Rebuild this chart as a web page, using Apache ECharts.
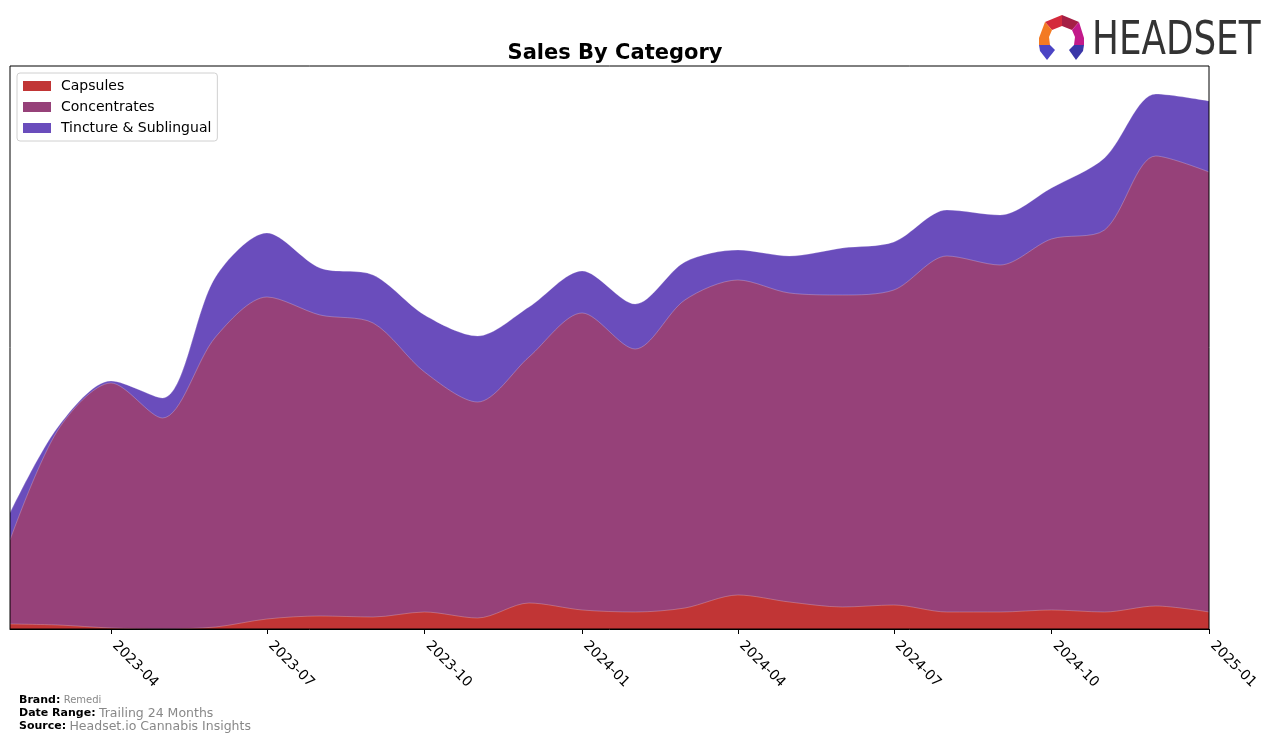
<!DOCTYPE html>
<html>
<head>
<meta charset="utf-8">
<script src="https://cdn.jsdelivr.net/npm/echarts@6/dist/echarts.min.js"></script>
<style>
html,body{margin:0;padding:0;background:#fff;}
#chart{width:1276px;height:743px;}
</style>
</head>
<body>
<div id="chart"></div>
<script>
var months = ['2023-02','2023-03','2023-04','2023-05','2023-06','2023-07','2023-08','2023-09','2023-10','2023-11','2023-12','2024-01','2024-02','2024-03','2024-04','2024-05','2024-06','2024-07','2024-08','2024-09','2024-10','2024-11','2024-12','2025-01'];
var capsules = [5,4,1,0,2,10,13,12,17,11,26,19,17,21,34,27,22,24,17,17,19,17,23,17];
var concentrates = [84,195,245,211,290,322,301,294,240,216,246,297,263,308,315,309,312,315,356,347,371,382,450,440];
var tincture = [27,3,2,20,60,64,47,48,57,66,50,42,45,38,30,37,47,48,46,50,51,72,62,71];
var tickLabels = ['2023-04','2023-07','2023-10','2024-01','2024-04','2024-07','2024-10','2025-01'];
var seriesNames = ['Capsules','Concentrates','Tincture & Sublingual'];
var colors = ['#c13535','#964179','#6a4dbc'];

function ts(m){var p=m.split('-');return Date.UTC(+p[0],+p[1]-1,1);}
function fmt(v){var d=new Date(v);var mm=d.getUTCMonth()+1;return d.getUTCFullYear()+'-'+(mm<10?'0':'')+mm;}
var tickVals = tickLabels.map(ts);

// cumulative (stacked) layers built from the series arrays
var layers = [capsules, concentrates, tincture];
var cumulative = [];
layers.forEach(function(arr, k){
  cumulative.push(arr.map(function(v, i){ return v + (k > 0 ? cumulative[k-1][i] : 0); }));
});

var chart = echarts.init(document.getElementById('chart'));
var mk = function(k){
  return {
    name:seriesNames[k], type:'line', smooth:0.3, symbol:'none',
    data:months.map(function(m,i){return [ts(m), cumulative[k][i]];}),
    lineStyle:{width:0.8,color:'rgba(255,255,255,0.3)'},
    itemStyle:{color:colors[k]},
    areaStyle:{color:colors[k],opacity:1,origin:'start'},
    z:5-k
  };
};
chart.setOption({
  animation:false,
  title:{text:'Sales By Category',left:610,top:38,textAlign:'center',
    textStyle:{fontFamily:'DejaVu Sans',fontSize:21,fontWeight:'bold',color:'#000'}},
  legend:{
    data:seriesNames, orient:'vertical', left:17, top:73,
    itemWidth:28, itemHeight:10, itemGap:7,
    padding:[6,6,6,6],
    borderColor:'#d0d0d0', borderWidth:1, borderRadius:3, backgroundColor:'#fff',
    icon:'rect',
    textStyle:{fontFamily:'DejaVu Sans',fontSize:14,color:'#000',padding:[0,0,0,5]}
  },
  grid:{left:10,right:67,top:66,bottom:114,show:true,borderColor:'#000',borderWidth:1,backgroundColor:'transparent',z:10},
  xAxis:{
    type:'value', min:ts(months[0]), max:ts(months[months.length-1]),
    splitLine:{show:false},
    axisLine:{show:true,lineStyle:{color:'#000',width:1}},
    axisTick:{show:true,customValues:tickVals,length:5,lineStyle:{color:'#000'}},
    axisLabel:{show:true,customValues:tickVals,rotate:-45,margin:11,padding:[0,0,0,5],formatter:function(v){return fmt(v);},
      fontFamily:'DejaVu Sans',fontSize:14,color:'#000'}
  },
  yAxis:{type:'value',min:0,max:563,show:false,splitLine:{show:false}},
  series:[mk(0),mk(1),mk(2)],
  graphic:[
    {type:'text',left:19,top:694,style:{text:'{b|Brand:} {g|Remedi}',rich:{b:{fontFamily:'DejaVu Sans',fontSize:11,fontWeight:'bold',fill:'#000'},g:{fontFamily:'DejaVu Sans',fontSize:10,fill:'#888'}}}},
    {type:'text',left:19,top:707,style:{text:'{b|Date Range:} {g|Trailing 24 Months}',rich:{b:{fontFamily:'DejaVu Sans',fontSize:11,fontWeight:'bold',fill:'#000'},g:{fontFamily:'DejaVu Sans',fontSize:12.5,fill:'#888'}}}},
    {type:'text',left:19,top:720,style:{text:'{b|Source:} {g|Headset.io Cannabis Insights}',rich:{b:{fontFamily:'DejaVu Sans',fontSize:11,fontWeight:'bold',fill:'#000'},g:{fontFamily:'DejaVu Sans',fontSize:12.5,fill:'#888'}}}},
    {type:'text',x:1092,y:18,scaleX:0.845,style:{text:'HEADSET',fontFamily:'DejaVu Sans Condensed, DejaVu Sans',fontSize:47,fill:'#333'}},
    {type:'polygon',shape:{points:[[1062,15],[1045,22],[1052,30],[1062,26]]},style:{fill:'#d42a3c'}},
    {type:'polygon',shape:{points:[[1062,15],[1079,22],[1072,30],[1062,26]]},style:{fill:'#a51f45'}},
    {type:'polygon',shape:{points:[[1045,22],[1039,38],[1039,45],[1050,45],[1049,37],[1052,30]]},style:{fill:'#f37a23'}},
    {type:'polygon',shape:{points:[[1079,22],[1084,38],[1084,45],[1074,45],[1075,37],[1072,30]]},style:{fill:'#c21a8a'}},
    {type:'polygon',shape:{points:[[1039,45],[1050,45],[1055,50],[1047,60],[1040,51]]},style:{fill:'#4b44c4'}},
    {type:'polygon',shape:{points:[[1074,45],[1084,45],[1083,51],[1076,60],[1069,50]]},style:{fill:'#3a36a8'}}
  ]
});
</script>
</body>
</html>
